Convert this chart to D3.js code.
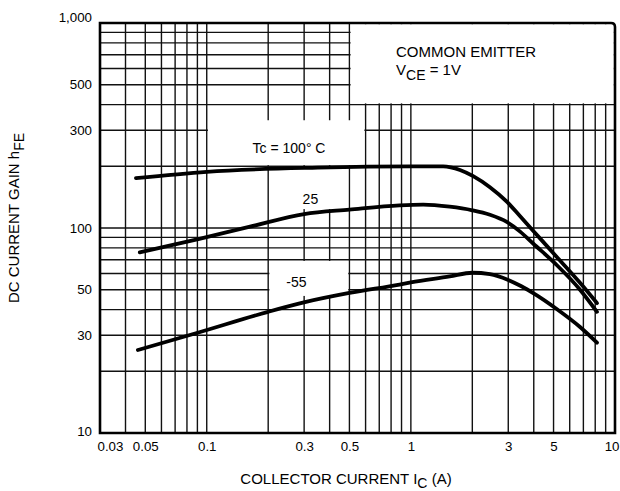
<!DOCTYPE html>
<html>
<head>
<meta charset="utf-8">
<script src="https://cdn.jsdelivr.net/npm/d3@7"></script>
<style>
  html, body { margin: 0; padding: 0; background: #fff; }
  svg { display: block; font-family: "Liberation Sans", Arial, Helvetica, sans-serif; }
</style>
</head>
<body>
<svg id="chart" width="620" height="491"></svg>
<script>
// ---- data ----
const xTickValues = [0.03, 0.05, 0.1, 0.3, 0.5, 1, 3, 5, 10];
const xTickLabels = ["0.03", "0.05", "0.1", "0.3", "0.5", "1", "3", "5", "10"];
const yTickValues = [10, 30, 50, 100, 300, 500, 1000];
const yTickLabels = ["10", "30", "50", "100", "300", "500", "1,000"];

const ic100  = [0.045, 0.1, 0.35, 1.0, 1.44, 1.74, 2.02, 2.44, 2.96, 3.43, 3.97, 5.2, 6.74, 8.16];
const hfe100 = [175,   188, 197,  200, 200,  192,  179,  158,  134,  114,  97,   72,  54,   43];

const ic25  = [0.047, 0.092, 0.163, 0.3, 0.5, 0.88, 1.15, 1.55, 2.0, 2.44, 2.95, 3.43, 3.97, 5.18, 6.74, 8.16];
const hfe25 = [76,    88.5,  101.5, 117, 123, 129,  130,  127,  122, 116,  107,  96,   84,   66,   50,   39];

const icM55  = [0.046, 0.092, 0.2, 0.31, 0.5,  0.88, 1.0,  1.55, 2.0,  2.44, 3.0,  3.46, 4.05, 5.14, 6.74, 8.16];
const hfeM55 = [25.4,  31.0,  39,  43.7, 48.2, 53.0, 54.3, 58,   60.5, 59.6, 55.8, 52.1, 47.6, 40.5, 32.9, 27.6];

const seriesLabels = ["Tc = 100° C", "25", "-55"];

// ---- layout ----
const svg = d3.select("#chart");
const x = d3.scaleLog().domain([0.03, 10]).range([100, 615]);
const y = d3.scaleLog().domain([10, 1000]).range([433, 23]);

// grid values: 1..9 x decades
const xGrid = [];
[0.01, 0.1, 1].forEach(d => { for (let k = 1; k <= 9; k++) { const v = +(k * d).toPrecision(3); if (v > 0.03 && v < 10) xGrid.push(v); } });
const yGrid = [];
[10, 100].forEach(d => { for (let k = 2; k <= 9; k++) yGrid.push(k * d); });
yGrid.push(100);

const g = svg.append("g");

g.selectAll("line.vg").data(xGrid).enter().append("line")
  .attr("x1", d => x(d)).attr("x2", d => x(d))
  .attr("y1", y(1000)).attr("y2", y(10))
  .attr("stroke", "#111").attr("stroke-width", 1.4);

g.selectAll("line.hg").data(yGrid).enter().append("line")
  .attr("y1", d => y(d)).attr("y2", d => y(d))
  .attr("x1", x(0.03)).attr("x2", x(10))
  .attr("stroke", "#111").attr("stroke-width", 1.4);

// white label boxes covering the grid (as in the original sheet)
const boxes = [
  { x0: 0.5, x1: 10,  y0: 1000, y1: 400 },
  { x0: 0.1, x1: 0.6, y0: 340,  y1: 200 },
  { x0: 0.2, x1: 0.5, y0: 200,  y1: 122 },
  { x0: 0.2, x1: 0.5, y0: 70,   y1: 46 }
];
g.selectAll("rect.box").data(boxes).enter().append("rect")
  .attr("x", d => x(d.x0) + 1.2)
  .attr("y", d => y(d.y0) + 1.2)
  .attr("width", d => x(d.x1) - x(d.x0) - 2.4)
  .attr("height", d => y(d.y1) - y(d.y0) - 2.4)
  .attr("fill", "#fff");

// curves
const series = [
  { ic: ic100, hfe: hfe100 },
  { ic: ic25, hfe: hfe25 },
  { ic: icM55, hfe: hfeM55 }
];
const line = d3.line().x(d => x(d[0])).y(d => y(d[1])).curve(d3.curveMonotoneX);
g.selectAll("path.curve").data(series).enter().append("path")
  .attr("d", s => line(s.ic.map((v, i) => [v, s.hfe[i]])))
  .attr("fill", "none").attr("stroke", "#000")
  .attr("stroke-width", 3.8).attr("stroke-linecap", "round");

// frame with rounded top-right corner
const L = x(0.03), R = x(10), T = y(1000), B = y(10), r = 4;
g.append("path")
  .attr("d", `M${L},${B} L${L},${T} L${R - r},${T} Q${R},${T} ${R},${T + r} L${R},${B} Z`)
  .attr("fill", "none").attr("stroke", "#000").attr("stroke-width", 2.6);

// axes
const nX = xTickValues.length;
const xAxis = d3.axisBottom(x).tickValues(xTickValues)
  .tickFormat((d, i) => xTickLabels[i]).tickSize(0).tickPadding(9);
const xa = svg.append("g").attr("transform", `translate(0,${B})`).call(xAxis);
xa.select(".domain").remove();
xa.selectAll("text").attr("font-size", 13.3).attr("fill", "#000")
  .attr("font-family", "Liberation Sans, Arial, sans-serif")
  .attr("text-anchor", (d, i) => i === 0 ? "start" : (i === nX - 1 ? "end" : "middle"))
  .attr("dx", (d, i) => i === 0 ? -3 : (i === nX - 1 ? 4 : 0));

const yAxis = d3.axisLeft(y).tickValues(yTickValues)
  .tickFormat((d, i) => yTickLabels[i]).tickSize(0).tickPadding(8);
const ya = svg.append("g").attr("transform", `translate(${L},0)`).call(yAxis);
ya.select(".domain").remove();
ya.selectAll("text").attr("font-size", 13.3).attr("fill", "#000")
  .attr("font-family", "Liberation Sans, Arial, sans-serif")
  .attr("dy", d => d === 1000 ? "-0.15em" : (d === 10 ? "0.2em" : "0.32em"));

// series labels
const lab = svg.append("g").attr("font-size", 14).attr("fill", "#000");
lab.append("text").attr("x", x(0.253)).attr("y", y(231)).attr("text-anchor", "middle").text(seriesLabels[0]);
lab.append("text").attr("x", x(0.322)).attr("y", y(130.5)).attr("text-anchor", "middle").text(seriesLabels[1]);
lab.append("text").attr("x", x(0.275)).attr("y", y(51.7)).attr("text-anchor", "middle").text(seriesLabels[2]);

// condition box text
const cond = svg.append("g").attr("font-size", 15).attr("fill", "#000");
cond.append("text").attr("x", 396).attr("y", 57).text("COMMON EMITTER");
const vce = cond.append("text").attr("x", 396).attr("y", 75);
vce.append("tspan").text("V");
vce.append("tspan").attr("dy", 5).attr("font-size", 14).text("CE");
vce.append("tspan").attr("dy", -5).text(" = 1V");

// axis titles
const xt = svg.append("text").attr("x", 346).attr("y", 484).attr("text-anchor", "middle")
  .attr("font-size", 15).attr("fill", "#000");
xt.append("tspan").text("COLLECTOR CURRENT I");
xt.append("tspan").attr("dy", 4).attr("font-size", 14).text("C");
xt.append("tspan").attr("dy", -4).text(" (A)");

const yt = svg.append("text").attr("transform", "translate(19,218) rotate(-90)")
  .attr("text-anchor", "middle").attr("font-size", 15).attr("fill", "#000");
yt.append("tspan").text("DC CURRENT GAIN h");
yt.append("tspan").attr("dy", 5).attr("font-size", 14).text("FE");
</script>
</body>
</html>
